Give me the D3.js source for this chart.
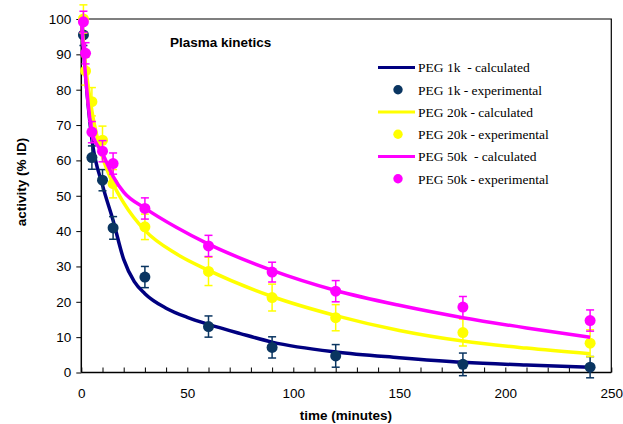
<!DOCTYPE html>
<html>
<head>
<meta charset="utf-8">
<script src="https://cdn.jsdelivr.net/npm/d3@7"></script>
<style>
  body { margin: 0; background: #fff; }
  text { font-family: Arial, "Liberation Sans", sans-serif; }
  .legend text { font-family: "Times New Roman", "Liberation Serif", serif; font-size: 13.5px; white-space: pre; }
</style>
</head>
<body>
<div id="chart"></div>
<script>
// measured times (minutes)
const times1k = [1, 5, 10, 15, 30, 60, 90, 120, 180, 240];
const times = [1, 2, 5, 10, 15, 30, 60, 90, 120, 180, 240];

// experimental values (% ID) and error bars
const exp1k = [95.5, 60.8, 54.4, 40.9, 27.0, 13.0, 7.1, 4.7, 2.3, 1.5];
const err1k = [3, 3.3, 3, 3.2, 3, 3, 3, 3.2, 3.2, 3];
const exp20k = [100, 85.3, 76.6, 65.7, 53.4, 41.2, 28.6, 21.2, 15.5, 11.3, 8.3];
const err20k = [4, 4, 4, 4, 4, 3.6, 4, 3.8, 3.7, 3.8, 3.8];
const exp50k = [99.2, 90.3, 68.0, 62.6, 59.1, 46.4, 35.8, 28.4, 23.0, 18.5, 14.7];
const err50k = [3, 3, 3, 3, 3, 3, 3, 2.8, 3, 3, 3];

// calculated curves
const calcT1k = [0, 2, 5, 10, 15, 20, 25, 30, 40, 50, 60, 75, 90, 120, 150, 180, 210, 240];
const calc1k = [100, 84, 66, 53, 43, 32, 25.7, 22.3, 18.2, 15.6, 13.6, 11, 8.6, 5.8, 4.2, 2.9, 2.1, 1.5];
const calcT = [0, 2, 5, 10, 15, 20, 30, 45, 60, 90, 120, 150, 180, 210, 240];
const calc20k = [100, 87, 74, 61, 53.4, 48, 40.2, 33.5, 28.9, 21.5, 16.1, 11.9, 8.9, 6.9, 5.3];
const calc50k = [100, 84, 68, 62, 55.5, 51, 46.5, 41, 36.3, 28.9, 23.2, 19, 15.5, 12.6, 10];

const xTicks = [0, 50, 100, 150, 200, 250];
const yTicks = [0, 10, 20, 30, 40, 50, 60, 70, 80, 90, 100];

const width = 623, height = 424;
const svg = d3.select("#chart").append("svg")
    .attr("width", width)
    .attr("height", height);

const x = d3.scaleLinear().domain([0, 250]).range([81.3, 611.3]);
const y = d3.scaleLinear().domain([0, 100]).range([372.5, 19]);

// frame
svg.append("path")
    .attr("d", `M${x(0)},${y(100)}H${x(250)}V${y(0)}`)
    .attr("fill", "none")
    .attr("stroke", "#000")
    .attr("stroke-width", 1.2);

// x axis: inward minor ticks every 10
const xAxis = svg.append("g").attr("transform", `translate(0,${y(0)})`);
xAxis.call(d3.axisTop(x).tickValues(d3.range(0, 251, 10)).tickSize(5).tickFormat(""));
xAxis.select(".domain").remove();
xAxis.append("line").attr("x1", x(0)).attr("x2", x(250)).attr("stroke", "#000").attr("stroke-width", 1.5);
xAxis.selectAll(".tick line").attr("stroke", "#000");

const xLabels = svg.append("g").attr("transform", `translate(0,${y(0)})`)
    .call(d3.axisBottom(x).tickValues(xTicks).tickSize(0).tickPadding(16));
xLabels.select(".domain").remove();
xLabels.selectAll("text").attr("font-size", 13.5).attr("fill", "#000")
    .style("font-family", "Arial, 'Liberation Sans', sans-serif");

// y axis: outward ticks
const yAxis = svg.append("g").attr("transform", `translate(${x(0)},0)`)
    .call(d3.axisLeft(y).tickValues(yTicks).tickSize(5).tickPadding(5));
yAxis.select(".domain").attr("stroke-width", 1.5).attr("d", `M0,${y(0)}V${y(100)}`);
yAxis.selectAll("text").attr("font-size", 13.5).attr("fill", "#000")
    .style("font-family", "Arial, 'Liberation Sans', sans-serif");

// series
const series = [
  { t: times1k, v: exp1k, e: err1k, ct: calcT1k, c: calc1k, line: "#000080", dot: "#0a3561",
    lab: ["PEG 1k  - calculated", "PEG 1k - experimental"] },
  { t: times, v: exp20k, e: err20k, ct: calcT, c: calc20k, line: "#ffff00", dot: "#ffff00",
    lab: ["PEG 20k - calculated", "PEG 20k - experimental"] },
  { t: times, v: exp50k, e: err50k, ct: calcT, c: calc50k, line: "#ff00ff", dot: "#ff00ff",
    lab: ["PEG 50k  - calculated", "PEG 50k - experimental"] }
];

const line = d3.line()
    .x(d => x(d[0]))
    .y(d => y(d[1]))
    .curve(d3.curveMonotoneX);

series.forEach(s => {
  svg.append("path")
      .attr("d", line(d3.zip(s.ct, s.c)))
      .attr("fill", "none")
      .attr("stroke", s.line)
      .attr("stroke-width", 3.5);

  const pts = d3.zip(s.t, s.v, s.e);
  const eb = svg.append("g").attr("stroke", s.dot).attr("stroke-width", 1.5);
  pts.forEach(([t, v, e]) => {
    eb.append("line").attr("x1", x(t)).attr("x2", x(t)).attr("y1", y(v - e)).attr("y2", y(v + e));
    eb.append("line").attr("x1", x(t) - 4).attr("x2", x(t) + 4).attr("y1", y(v - e)).attr("y2", y(v - e));
    eb.append("line").attr("x1", x(t) - 4).attr("x2", x(t) + 4).attr("y1", y(v + e)).attr("y2", y(v + e));
  });

  svg.append("g").selectAll("circle")
      .data(pts)
      .enter().append("circle")
      .attr("cx", d => x(d[0]))
      .attr("cy", d => y(d[1]))
      .attr("r", 5.5)
      .attr("fill", s.dot);
});

// legend
const legend = svg.append("g").attr("class", "legend");
series.forEach((s, i) => {
  const y0 = 67.5 + i * 44.5;
  legend.append("line")
      .attr("x1", 378).attr("x2", 415)
      .attr("y1", y0).attr("y2", y0)
      .attr("stroke", s.line).attr("stroke-width", 3);
  legend.append("text").attr("x", 418).attr("y", y0).attr("dy", "0.35em")
      .attr("xml:space", "preserve").text(s.lab[0]);
  legend.append("circle").attr("cx", 398).attr("cy", y0 + 22.3).attr("r", 4.7).attr("fill", s.dot);
  legend.append("text").attr("x", 418).attr("y", y0 + 22.3).attr("dy", "0.35em")
      .attr("xml:space", "preserve").text(s.lab[1]);
});

// titles
svg.append("text")
    .attr("x", 170).attr("y", 42)
    .attr("dy", "0.35em")
    .attr("font-size", 13.5).attr("font-weight", "bold")
    .text("Plasma kinetics");

svg.append("text")
    .attr("x", 346).attr("y", 420)
    .attr("text-anchor", "middle")
    .attr("font-size", 13.5).attr("font-weight", "bold")
    .text("time (minutes)");

svg.append("text")
    .attr("transform", "translate(25.5,182) rotate(-90)")
    .attr("text-anchor", "middle")
    .attr("font-size", 13.5).attr("font-weight", "bold")
    .text("activity (% ID)");
</script>
</body>
</html>
